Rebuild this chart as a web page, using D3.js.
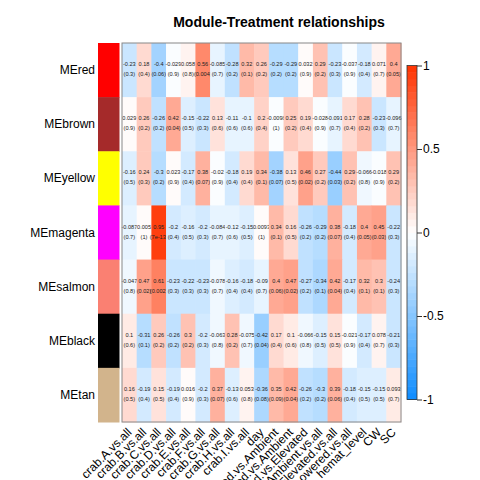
<!DOCTYPE html>
<html><head><meta charset="utf-8">
<script src="https://cdn.jsdelivr.net/npm/d3@7"></script>
<style>body{margin:0;background:#fff}svg{display:block}</style>
</head><body>
<script>
const modules = ["MEred","MEbrown","MEyellow","MEmagenta","MEsalmon","MEblack","MEtan"];
const moduleColors = ["#FF0000","#A52A2A","#FFFF00","#FF00FF","#FA8072","#000000","#D2B48C"];
const traits = ["crab.A.vs.all","crab.B.vs.all","crab.C.vs.all","crab.D.vs.all","crab.E.vs.all","crab.F.vs.all","crab.G.vs.all","crab.H.vs.all","crab.I.vs.all","day","Lowered.vs.Ambient","Elevated.vs.Ambient","Lowered.vs.Elevated","Ambient.vs.all","Elevated.vs.all","Lowered.vs.all","hemat_level","CW","SC"];
const corValues = [
 [-0.23,0.18,-0.4,-0.029,0.058,0.56,-0.085,-0.28,0.32,0.26,-0.29,-0.29,0.032,0.29,-0.23,-0.037,-0.18,0.071,0.4],
 [0.029,0.26,-0.26,0.42,-0.15,-0.22,0.13,-0.11,-0.1,0.2,-0.0098,0.25,0.19,-0.028,-0.091,0.17,0.28,-0.23,-0.096],
 [-0.16,0.24,-0.3,0.023,-0.17,0.38,-0.02,-0.18,0.19,0.34,-0.38,0.13,0.46,0.27,-0.44,0.29,-0.066,-0.018,0.29],
 [-0.087,0.005,0.95,-0.2,-0.16,-0.2,-0.084,-0.12,-0.15,0.0093,0.34,0.16,-0.26,-0.29,0.38,-0.18,0.4,0.45,-0.22],
 [-0.047,0.47,0.61,-0.23,-0.22,-0.23,-0.078,-0.16,-0.18,-0.09,0.4,0.47,-0.27,-0.34,0.42,-0.17,0.32,0.3,-0.24],
 [0.1,-0.31,0.26,-0.26,0.3,-0.2,-0.063,0.28,-0.075,-0.42,0.17,0.1,-0.066,-0.15,0.15,-0.021,-0.17,0.078,-0.21],
 [0.16,-0.19,0.15,-0.19,0.016,-0.2,0.37,-0.13,0.053,-0.36,0.35,0.42,-0.26,-0.3,0.39,-0.18,-0.15,-0.15,0.093]
];
const pValues = [
 ["0.3","0.4","0.06","0.9","0.8","0.004","0.7","0.2","0.1","0.2","0.2","0.2","0.9","0.2","0.3","0.9","0.4","0.7","0.05"],
 ["0.9","0.2","0.2","0.04","0.5","0.3","0.6","0.6","0.6","0.4","1","0.2","0.4","0.9","0.7","0.4","0.2","0.3","0.7"],
 ["0.5","0.3","0.2","0.9","0.4","0.07","0.9","0.4","0.4","0.1","0.07","0.5","0.02","0.2","0.03","0.2","0.8","0.9","0.2"],
 ["0.7","1","7e-13","0.4","0.5","0.3","0.7","0.6","0.5","1","0.1","0.5","0.2","0.2","0.07","0.4","0.05","0.03","0.3"],
 ["0.8","0.02","0.002","0.3","0.3","0.3","0.7","0.4","0.4","0.7","0.06","0.02","0.2","0.1","0.04","0.4","0.1","0.1","0.3"],
 ["0.6","0.1","0.2","0.2","0.2","0.3","0.8","0.2","0.7","0.04","0.4","0.6","0.8","0.5","0.5","0.9","0.4","0.7","0.3"],
 ["0.5","0.4","0.5","0.4","0.9","0.3","0.07","0.6","0.8","0.08","0.09","0.04","0.2","0.2","0.06","0.4","0.5","0.5","0.7"]
];
const legendTicks = [1,0.5,0,-0.5,-1];

const W=480,H=480;
const L=122,R=401,T=43,B=422;
const svg=d3.select("body").append("svg").attr("width",W).attr("height",H);
const font="Liberation Sans, Arial, sans-serif";

const x=d3.scaleBand().domain(d3.range(traits.length)).range([L,R]);
const y=d3.scaleBand().domain(d3.range(modules.length)).range([T,B]);

const blueEnd=d3.rgb(13,140,255), redEnd=d3.rgb(255,51,0);
const colorCont=d3.scaleLinear().domain([-1,0,1]).range([blueEnd,"#ffffff",redEnd]).interpolate(d3.interpolateRgb);
const nCol=50;
const palette=d3.range(nCol).map(i=>colorCont(-1+(i+0.5)*2/nCol));
const color=d3.scaleQuantize().domain([-1,1]).range(palette);

// cells
const g=svg.append("g");
corValues.forEach((row,i)=>{
  row.forEach((v,j)=>{
    g.append("rect").attr("x",x(j)).attr("y",y(i)).attr("width",x.bandwidth()+0.5).attr("height",y.bandwidth()+0.5)
      .attr("fill",color(v));
    const cx=x(j)+x.bandwidth()/2, cy=y(i)+y.bandwidth()/2;
    g.append("text").attr("x",cx).attr("y",cy-4).attr("text-anchor","middle")
      .attr("font-family",font).attr("font-size",5.6).attr("fill","#222").text(String(v));
    g.append("text").attr("x",cx).attr("y",cy+6).attr("text-anchor","middle")
      .attr("font-family",font).attr("font-size",5.6).attr("fill","#222").text("("+pValues[i][j]+")");
  });
});
// box
svg.append("rect").attr("x",L).attr("y",T).attr("width",R-L).attr("height",B-T)
  .attr("fill","none").attr("stroke","#888").attr("stroke-width",1);

// module color bars
modules.forEach((m,i)=>{
  svg.append("rect").attr("x",98).attr("y",y(i)).attr("width",21.5).attr("height",y.bandwidth()+0.5)
    .attr("fill",moduleColors[i]);
  svg.append("text").attr("x",95).attr("y",y(i)+y.bandwidth()/2+4).attr("text-anchor","end")
    .attr("font-family",font).attr("font-size",12).attr("fill","#000").text(m);
});

// x labels
traits.forEach((t,j)=>{
  const cx=x(j)+x.bandwidth()/2+3, cy=433;
  svg.append("text").attr("transform",`translate(${cx},${cy}) rotate(-45)`).attr("text-anchor","end")
    .attr("font-family",font).attr("font-size",12).attr("fill","#000").text(t);
});

// title
svg.append("text").attr("x",279).attr("y",27).attr("text-anchor","middle")
  .attr("font-family",font).attr("font-size",14).attr("font-weight","bold").text("Module-Treatment relationships");

// legend
const ly=d3.scaleLinear().domain([-1,1]).range([399.5,65.5]);
const lx0=407,lx1=417;
const stepH=(ly(-1)-ly(1))/nCol;
palette.forEach((c,i)=>{
  const v0=-1+i*2/nCol;
  svg.append("rect").attr("x",lx0).attr("y",ly(v0)-stepH).attr("width",lx1-lx0).attr("height",stepH+0.5).attr("fill",c);
});
svg.append("rect").attr("x",lx0).attr("y",ly(1)).attr("width",lx1-lx0).attr("height",ly(-1)-ly(1))
  .attr("fill","none").attr("stroke","#333").attr("stroke-width",0.8);
const ax=d3.axisRight(ly).tickValues(legendTicks).tickSize(5).tickFormat(d=>String(d));
const axg=svg.append("g").attr("transform",`translate(${lx1},0)`).call(ax);
axg.select(".domain").remove();
axg.selectAll("text").attr("font-family",font).attr("font-size",12).attr("fill","#000").attr("x",6);
axg.selectAll("line").attr("stroke","#333");
</script>
</body></html>
